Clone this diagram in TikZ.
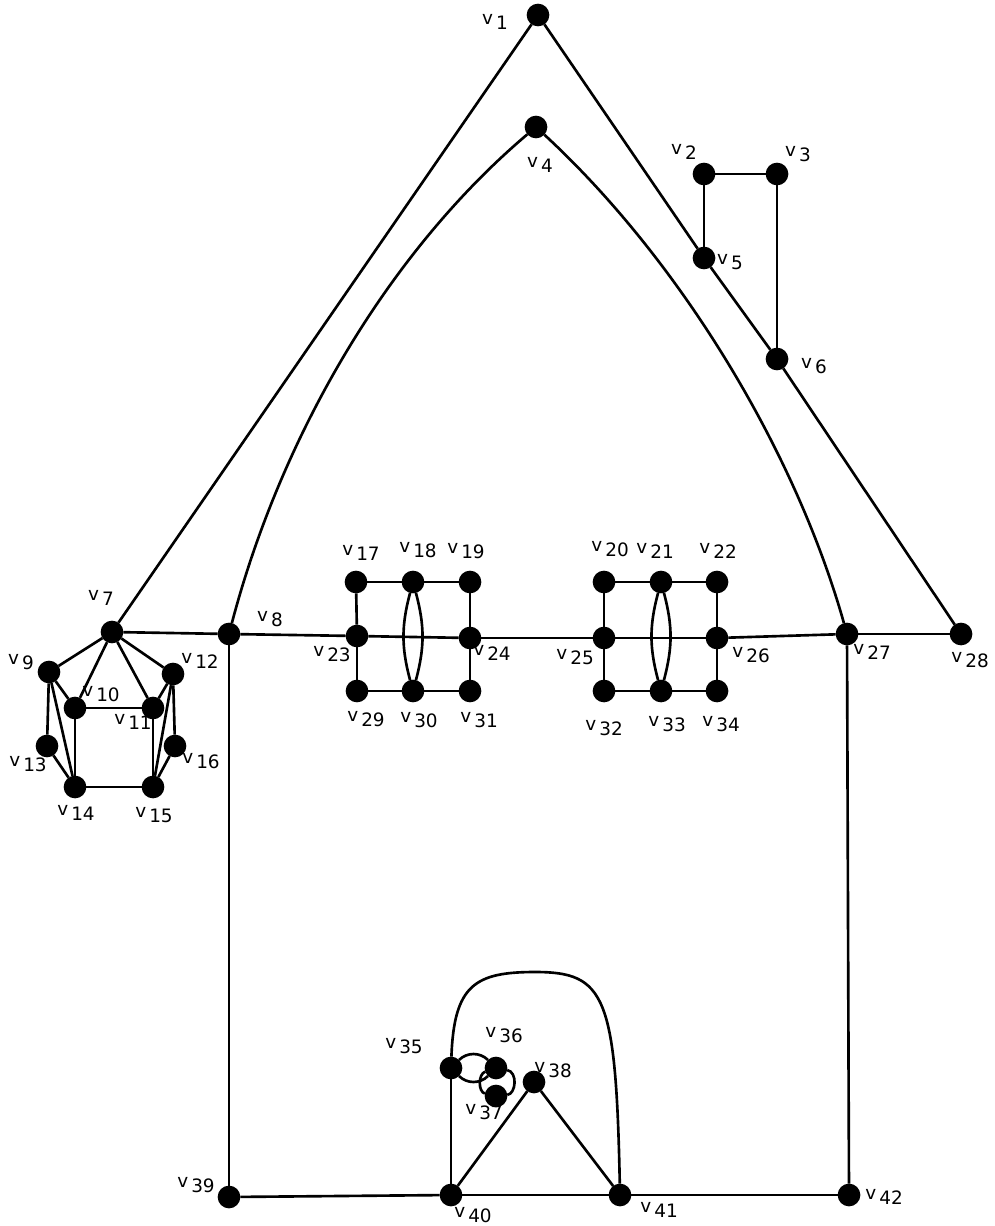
\documentclass[tikz,border=0pt]{standalone}
\usepackage{fontspec}
\usepackage{tikz}
\newfontfamily\lblfont{DejaVu Sans}
\tikzset{
  dot/.style = {circle, fill=black, draw=black, inner sep=0pt,
    minimum size=0.4cm},% sommet
  lbl/.style = {inner sep=0pt, font=\lblfont\fontsize{10.5}{12}\selectfont},% nom
}
\newcommand{\vname}[1]{\raisebox{0.3em}{v}\,#1}

\begin{document}
\begin{tikzpicture}[x=0.02cm, y=-0.02cm, line width=1.5pt]
\useasboundingbox (0,0) rectangle (994,1226);
% sommets et noms
\foreach \n/\x/\y/\lx/\ly in {
  1/538/15/495/22, 2/704/174/684/152, 3/777/174/798/154,
  4/536/127/540/165, 5/704/258/730/262, 6/777/359/814/366,
  7/112/632/101/598, 8/229/634/270/619, 9/49/672/21/662,
  10/75/708/101/694, 11/153/708/133/722, 12/173/674/200/661,
  13/47/746/28/764, 14/75/787/76/813, 15/153/787/154/815,
  16/175/746/201/761, 17/356/582/361/553, 18/413/582/418/550,
  19/470/582/466/551, 20/604/582/610/549, 21/661/582/655/551,
  22/717/582/718/551, 23/357/636/332/654, 24/470/638/492/653,
  25/604/638/575/657, 26/717/638/751/655, 27/847/634/872/652,
  28/961/634/970/660, 29/357/691/366/719, 30/413/691/419/720,
  31/470/691/479/720, 32/604/691/604/728, 33/661/691/667/724,
  34/717/691/721/724, 35/451/1068/404/1046, 36/496/1068/504/1035,
  37/496/1096/484/1112, 38/534/1082/553/1070, 39/229/1197/196/1185,
  40/451/1195/473/1215, 41/620/1195/659/1210, 42/849/1195/884/1197}
{
  \node [dot] (v\n) at (\x,\y) {};
  \node [lbl] (l\n) at (\lx,\ly) {\vname{\n}};
}
% aretes droites
\foreach \a/\b in {1/7, 1/5, 5/6, 6/28, 2/3, 2/5, 3/6,
  7/8, 8/23, 23/24, 24/25, 25/26, 26/27, 27/28,
  8/39, 27/42, 39/40, 40/41, 41/42, 38/40, 38/41, 35/40,
  7/9, 7/10, 7/11, 7/12, 9/10, 9/13, 9/14, 10/11, 10/14,
  11/12, 11/15, 12/15, 12/16, 13/14, 14/15, 15/16,
  17/18, 18/19, 17/23, 23/29, 29/30, 30/31, 19/24, 24/31,
  20/21, 21/22, 20/25, 25/32, 32/33, 33/34, 22/26, 26/34}
  \draw (v\a) -- (v\b);
% toit
\draw (v4) .. controls (385,255) and (280,440) .. (v8);
\draw (v4) .. controls (680,260) and (795,450) .. (v27);
% porte
\coordinate (arch) at (535,972);
\draw (v35) .. controls (454,985) and (475,972) .. (arch)
  .. controls (605,972) and (616,995) .. (v41);
% aretes doubles
\foreach \a/\b in {18/30, 21/33}{
  \draw (v\a) to [bend left=15] (v\b);
  \draw (v\a) to [bend right=15] (v\b);
}
\draw (v35) to [bend left=45] (v36);
\draw (v35) to [bend right=45] (v36);
\draw (v36) .. controls (478,1074) and (478,1092) .. (v37);
\draw (v36) .. controls (518,1072) and (516,1094) .. (v37);
\end{tikzpicture}
\end{document}
